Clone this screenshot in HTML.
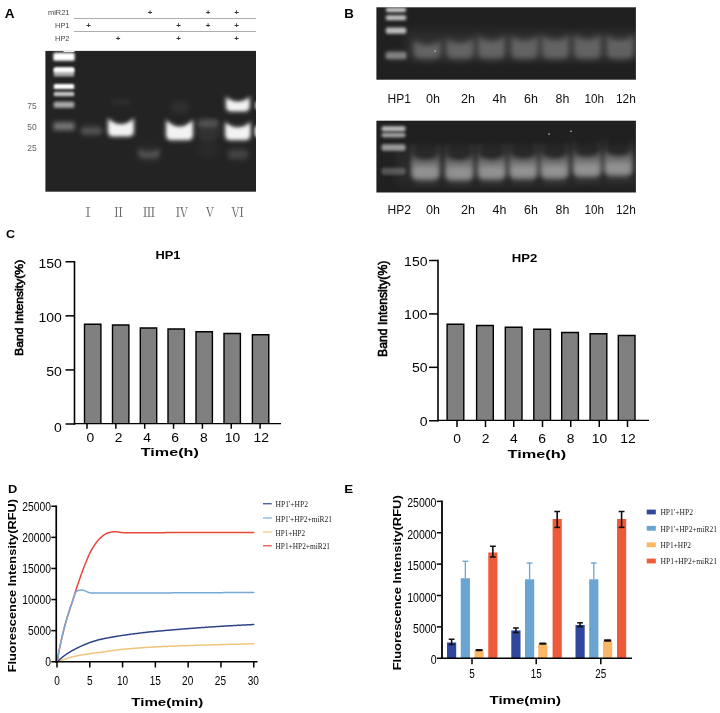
<!DOCTYPE html>
<html lang="en"><head><meta charset="utf-8"><title>Figure</title>
<style>html,body{margin:0;padding:0;background:#fff}svg{display:block}</style></head><body>
<svg width="720" height="713" viewBox="0 0 720 713">
<defs>
<filter id="b05" x="-60%" y="-250%" width="220%" height="600%"><feGaussianBlur stdDeviation="0.5"/></filter>
<filter id="b1" x="-60%" y="-250%" width="220%" height="600%"><feGaussianBlur stdDeviation="1.0"/></filter>
<filter id="b15" x="-60%" y="-250%" width="220%" height="600%"><feGaussianBlur stdDeviation="1.5"/></filter>
<filter id="b2" x="-60%" y="-250%" width="220%" height="600%"><feGaussianBlur stdDeviation="2.0"/></filter>
<filter id="b3" x="-60%" y="-250%" width="220%" height="600%"><feGaussianBlur stdDeviation="3.0"/></filter>
<filter id="b4" x="-60%" y="-250%" width="220%" height="600%"><feGaussianBlur stdDeviation="4.0"/></filter>
<filter id="tb" x="-10%" y="-10%" width="120%" height="120%"><feGaussianBlur stdDeviation="0.35"/></filter>
<clipPath id="cA"><rect x="45.4" y="50.9" width="210.6" height="140.8"/></clipPath>
<clipPath id="cB1"><rect x="376.4" y="7.3" width="259.5" height="72.4"/></clipPath>
<clipPath id="cB2"><rect x="376.4" y="120.7" width="259.5" height="71.8"/></clipPath>
<linearGradient id="gB" x1="0" y1="0" x2="0" y2="1"><stop offset="0" stop-color="#161616"/><stop offset="0.5" stop-color="#242424"/><stop offset="1" stop-color="#1b1b1b"/></linearGradient>
<linearGradient id="gv" x1="0" y1="0" x2="0" y2="1"><stop offset="0" stop-color="#fff" stop-opacity="0.35"/><stop offset="0.6" stop-color="#fff" stop-opacity="1"/><stop offset="1" stop-color="#fff" stop-opacity="1"/></linearGradient>
</defs>
<rect width="720" height="713" fill="#fff"/>
<g id="panelA">
<text x="4.8" y="18" font-family='"Liberation Sans", sans-serif' font-size="12.5" font-weight="bold" fill="#000" text-anchor="start" textLength="9.8" lengthAdjust="spacingAndGlyphs" >A</text>
<text x="69.5" y="15.3" font-family='"Liberation Sans", sans-serif' font-size="7.6" font-weight="normal" fill="#444" text-anchor="end" textLength="21.5" lengthAdjust="spacingAndGlyphs" >miR21</text>
<text x="69.5" y="28.3" font-family='"Liberation Sans", sans-serif' font-size="7.6" font-weight="normal" fill="#444" text-anchor="end" textLength="14.5" lengthAdjust="spacingAndGlyphs" >HP1</text>
<text x="69.5" y="41.3" font-family='"Liberation Sans", sans-serif' font-size="7.6" font-weight="normal" fill="#444" text-anchor="end" textLength="14.5" lengthAdjust="spacingAndGlyphs" >HP2</text>
<line x1="74" y1="18.5" x2="256" y2="18.5" stroke="#888" stroke-width="0.7" />
<line x1="74" y1="31.5" x2="256" y2="31.5" stroke="#888" stroke-width="0.7" />
<text x="150" y="15.25" font-family='"Liberation Sans", sans-serif' font-size="8" font-weight="bold" fill="#333" text-anchor="middle" >+</text>
<text x="208" y="15.25" font-family='"Liberation Sans", sans-serif' font-size="8" font-weight="bold" fill="#333" text-anchor="middle" >+</text>
<text x="236.5" y="15.25" font-family='"Liberation Sans", sans-serif' font-size="8" font-weight="bold" fill="#333" text-anchor="middle" >+</text>
<text x="88.5" y="27.95" font-family='"Liberation Sans", sans-serif' font-size="8" font-weight="bold" fill="#333" text-anchor="middle" >+</text>
<text x="178.7" y="27.95" font-family='"Liberation Sans", sans-serif' font-size="8" font-weight="bold" fill="#333" text-anchor="middle" >+</text>
<text x="208" y="27.95" font-family='"Liberation Sans", sans-serif' font-size="8" font-weight="bold" fill="#333" text-anchor="middle" >+</text>
<text x="236.5" y="27.95" font-family='"Liberation Sans", sans-serif' font-size="8" font-weight="bold" fill="#333" text-anchor="middle" >+</text>
<text x="118" y="40.65" font-family='"Liberation Sans", sans-serif' font-size="8" font-weight="bold" fill="#333" text-anchor="middle" >+</text>
<text x="178.7" y="40.65" font-family='"Liberation Sans", sans-serif' font-size="8" font-weight="bold" fill="#333" text-anchor="middle" >+</text>
<text x="236.5" y="40.65" font-family='"Liberation Sans", sans-serif' font-size="8" font-weight="bold" fill="#333" text-anchor="middle" >+</text>
<rect x="45.4" y="50.9" width="210.6" height="140.8" fill="#232323" />
<g clip-path="url(#cA)">
<rect x="53.75" y="53.30" width="20.5" height="7.0" rx="1.5" fill="#fff" opacity="1.0" filter="url(#b1)"/>
<rect x="53.00" y="52.30" width="22" height="9.0" rx="1.5" fill="#fff" opacity="0.4" filter="url(#b15)"/>
<rect x="63.50" y="50.50" width="11" height="1.6" rx="0.5" fill="#fff" opacity="0.9" filter="url(#b05)"/>
<rect x="53.75" y="67.30" width="20.5" height="5.0" rx="1.5" fill="#fff" opacity="1.0" filter="url(#b1)"/>
<rect x="53.75" y="68.50" width="20.5" height="8.0" rx="1.5" fill="#fff" opacity="0.6" filter="url(#b1)"/>
<rect x="53.75" y="83.90" width="20.5" height="5.2" rx="1.5" fill="#fff" opacity="1.0" filter="url(#b1)"/>
<rect x="53.75" y="91.80" width="20.5" height="4.4" rx="1.5" fill="#fff" opacity="0.72" filter="url(#b1)"/>
<rect x="53.75" y="101.70" width="20.5" height="6.0" rx="1.5" fill="#fff" opacity="0.62" filter="url(#b15)"/>
<rect x="53.75" y="122.45" width="20.5" height="7.5" rx="1.5" fill="#fff" opacity="0.3" filter="url(#b2)"/>
<rect x="52.50" y="120.70" width="23" height="11" rx="1.5" fill="#fff" opacity="0.08" filter="url(#b2)"/>
<rect x="81.00" y="127.50" width="21" height="7" rx="3" fill="#fff" opacity="0.17" filter="url(#b2)"/>
<rect x="80.00" y="124.00" width="23" height="12" rx="6.0" fill="#fff" opacity="0.06" filter="url(#b3)"/>
<path d="M107.85,117.50 C114.38,126.57 127.43,126.57 133.95,117.50 L133.95,131.60 Q133.95,136.60 128.95,136.60 L112.85,136.60 Q107.85,136.60 107.85,131.60 Z" fill="#ececec" opacity="0.95" filter="url(#b2)"/>
<path d="M109.65,120.50 C115.28,127.30 126.53,127.30 132.15,120.50 L132.15,130.70 Q132.15,134.70 128.15,134.70 L113.65,134.70 Q109.65,134.70 109.65,130.70 Z" fill="#fff" opacity="0.6" filter="url(#b15)"/>
<rect x="111.50" y="99.50" width="19" height="5" rx="2.5" fill="#fff" opacity="0.06" filter="url(#b2)"/>
<path d="M138.50,147.50 C143.75,153.50 154.25,153.50 159.50,147.50 L159.50,154.00 Q159.50,158.00 155.50,158.00 L142.50,158.00 Q138.50,158.00 138.50,154.00 Z" fill="#fff" opacity="0.17" filter="url(#b2)"/>
<rect x="137.00" y="146.00" width="24" height="16" rx="8.0" fill="#fff" opacity="0.05" filter="url(#b3)"/>
<path d="M165.95,119.00 C172.72,129.27 186.28,129.27 193.05,119.00 L193.05,135.20 Q193.05,140.20 188.05,140.20 L170.95,140.20 Q165.95,140.20 165.95,135.20 Z" fill="#ececec" opacity="0.95" filter="url(#b2)"/>
<path d="M167.75,122.00 C173.62,130.00 185.38,130.00 191.25,122.00 L191.25,134.30 Q191.25,138.30 187.25,138.30 L171.75,138.30 Q167.75,138.30 167.75,134.30 Z" fill="#fff" opacity="0.6" filter="url(#b15)"/>
<rect x="170.50" y="101.00" width="19" height="12" rx="6.0" fill="#fff" opacity="0.06" filter="url(#b3)"/>
<rect x="197.45" y="119.00" width="21.5" height="8" rx="3" fill="#fff" opacity="0.16" filter="url(#b2)"/>
<rect x="196.70" y="120.00" width="23" height="22" rx="11.0" fill="#fff" opacity="0.07" filter="url(#b3)"/>
<rect x="197.20" y="143.00" width="22" height="14" rx="7.0" fill="#fff" opacity="0.03" filter="url(#b3)"/>
<path d="M225.80,96.00 C231.80,103.60 243.80,103.60 249.80,96.00 L249.80,106.40 Q249.80,111.40 244.80,111.40 L230.80,111.40 Q225.80,111.40 225.80,106.40 Z" fill="#ececec" opacity="0.95" filter="url(#b2)"/>
<path d="M227.55,99.50 C232.68,104.17 242.93,104.17 248.05,99.50 L248.05,105.80 Q248.05,109.80 244.05,109.80 L231.55,109.80 Q227.55,109.80 227.55,105.80 Z" fill="#fff" opacity="0.6" filter="url(#b15)"/>
<path d="M225.00,121.30 C231.40,129.57 244.20,129.57 250.60,121.30 L250.60,135.20 Q250.60,140.20 245.60,140.20 L230.00,140.20 Q225.00,140.20 225.00,135.20 Z" fill="#ececec" opacity="0.95" filter="url(#b2)"/>
<path d="M226.80,124.30 C232.30,130.30 243.30,130.30 248.80,124.30 L248.80,134.30 Q248.80,138.30 244.80,138.30 L230.80,138.30 Q226.80,138.30 226.80,134.30 Z" fill="#fff" opacity="0.6" filter="url(#b15)"/>
<rect x="228.00" y="150.00" width="20" height="9" rx="4" fill="#fff" opacity="0.1" filter="url(#b2)"/>
<rect x="226.00" y="146.50" width="24" height="15" rx="7.5" fill="#fff" opacity="0.04" filter="url(#b3)"/>
<rect x="255.30" y="101.00" width="8" height="9" rx="4.0" fill="#fff" opacity="0.9" filter="url(#b15)"/>
<rect x="254.80" y="125.00" width="9" height="13" rx="4.5" fill="#fff" opacity="0.95" filter="url(#b15)"/>
</g>
<text x="27.2" y="108.5" font-family='"Liberation Sans", sans-serif' font-size="8.8" font-weight="normal" fill="#666" text-anchor="start" textLength="9.4" lengthAdjust="spacingAndGlyphs" >75</text>
<text x="27.2" y="130.0" font-family='"Liberation Sans", sans-serif' font-size="8.8" font-weight="normal" fill="#666" text-anchor="start" textLength="9.4" lengthAdjust="spacingAndGlyphs" >50</text>
<text x="27.2" y="150.6" font-family='"Liberation Sans", sans-serif' font-size="8.8" font-weight="normal" fill="#666" text-anchor="start" textLength="9.4" lengthAdjust="spacingAndGlyphs" >25</text>
<text x="88" y="216.5" font-family='"Liberation Serif", "Noto Serif CJK SC", serif' font-size="12.5" font-weight="normal" fill="#666" text-anchor="middle" >Ⅰ</text>
<text x="118.5" y="216.5" font-family='"Liberation Serif", "Noto Serif CJK SC", serif' font-size="12.5" font-weight="normal" fill="#666" text-anchor="middle" >Ⅱ</text>
<text x="149" y="216.5" font-family='"Liberation Serif", "Noto Serif CJK SC", serif' font-size="12.5" font-weight="normal" fill="#666" text-anchor="middle" >Ⅲ</text>
<text x="182" y="216.5" font-family='"Liberation Serif", "Noto Serif CJK SC", serif' font-size="12.5" font-weight="normal" fill="#666" text-anchor="middle" >Ⅳ</text>
<text x="210" y="216.5" font-family='"Liberation Serif", "Noto Serif CJK SC", serif' font-size="12.5" font-weight="normal" fill="#666" text-anchor="middle" >Ⅴ</text>
<text x="237.5" y="216.5" font-family='"Liberation Serif", "Noto Serif CJK SC", serif' font-size="12.5" font-weight="normal" fill="#666" text-anchor="middle" >Ⅵ</text>
</g>
<g id="panelB">
<text x="344.3" y="18.3" font-family='"Liberation Sans", sans-serif' font-size="12" font-weight="bold" fill="#000" text-anchor="start" textLength="9.6" lengthAdjust="spacingAndGlyphs" >B</text>
<rect x="376.4" y="7.3" width="259.5" height="72.4" fill="#202020" />
<g clip-path="url(#cB1)">
<rect x="405.00" y="30.00" width="240" height="32" rx="8" fill="#fff" opacity="0.05" filter="url(#b4)"/>
<rect x="385.75" y="7.70" width="20.5" height="4.4" rx="2" fill="#fff" opacity="0.8" filter="url(#b15)"/>
<rect x="385.75" y="15.30" width="20.5" height="5.0" rx="2" fill="#fff" opacity="0.72" filter="url(#b15)"/>
<rect x="385.75" y="27.40" width="20.5" height="6.4" rx="2" fill="#fff" opacity="0.7" filter="url(#b15)"/>
<rect x="385.75" y="51.90" width="20.5" height="7.0" rx="2" fill="#fff" opacity="0.36" filter="url(#b15)"/>
<rect x="384.00" y="49.90" width="24" height="11" rx="5.5" fill="#fff" opacity="0.1" filter="url(#b2)"/>
<path d="M412.95,38.50 C420.07,45.83 434.32,45.83 441.45,38.50 L441.45,52.20 Q441.45,59.20 434.45,59.20 L419.95,59.20 Q412.95,59.20 412.95,52.20 Z" fill="#fff" opacity="0.19" filter="url(#b3)"/>
<path d="M414.20,41.50 C420.70,47.50 433.70,47.50 440.20,41.50 L440.20,52.00 Q440.20,58.00 434.20,58.00 L420.20,58.00 Q414.20,58.00 414.20,52.00 Z" fill="#fff" opacity="0.09" filter="url(#b2)"/>
<path d="M445.75,36.50 C452.88,43.83 467.12,43.83 474.25,36.50 L474.25,52.20 Q474.25,59.20 467.25,59.20 L452.75,59.20 Q445.75,59.20 445.75,52.20 Z" fill="#fff" opacity="0.19" filter="url(#b3)"/>
<path d="M447.00,39.50 C453.50,45.50 466.50,45.50 473.00,39.50 L473.00,52.00 Q473.00,58.00 467.00,58.00 L453.00,58.00 Q447.00,58.00 447.00,52.00 Z" fill="#fff" opacity="0.09" filter="url(#b2)"/>
<path d="M477.25,34.50 C484.38,41.83 498.62,41.83 505.75,34.50 L505.75,52.20 Q505.75,59.20 498.75,59.20 L484.25,59.20 Q477.25,59.20 477.25,52.20 Z" fill="#fff" opacity="0.19" filter="url(#b3)"/>
<path d="M478.50,37.50 C485.00,43.50 498.00,43.50 504.50,37.50 L504.50,52.00 Q504.50,58.00 498.50,58.00 L484.50,58.00 Q478.50,58.00 478.50,52.00 Z" fill="#fff" opacity="0.09" filter="url(#b2)"/>
<path d="M510.25,34.00 C517.38,41.33 531.62,41.33 538.75,34.00 L538.75,52.20 Q538.75,59.20 531.75,59.20 L517.25,59.20 Q510.25,59.20 510.25,52.20 Z" fill="#fff" opacity="0.19" filter="url(#b3)"/>
<path d="M511.50,37.00 C518.00,43.00 531.00,43.00 537.50,37.00 L537.50,52.00 Q537.50,58.00 531.50,58.00 L517.50,58.00 Q511.50,58.00 511.50,52.00 Z" fill="#fff" opacity="0.09" filter="url(#b2)"/>
<path d="M541.25,33.50 C548.38,40.83 562.62,40.83 569.75,33.50 L569.75,52.20 Q569.75,59.20 562.75,59.20 L548.25,59.20 Q541.25,59.20 541.25,52.20 Z" fill="#fff" opacity="0.19" filter="url(#b3)"/>
<path d="M542.50,36.50 C549.00,42.50 562.00,42.50 568.50,36.50 L568.50,52.00 Q568.50,58.00 562.50,58.00 L548.50,58.00 Q542.50,58.00 542.50,52.00 Z" fill="#fff" opacity="0.09" filter="url(#b2)"/>
<path d="M573.25,33.00 C580.38,40.33 594.62,40.33 601.75,33.00 L601.75,52.20 Q601.75,59.20 594.75,59.20 L580.25,59.20 Q573.25,59.20 573.25,52.20 Z" fill="#fff" opacity="0.19" filter="url(#b3)"/>
<path d="M574.50,36.00 C581.00,42.00 594.00,42.00 600.50,36.00 L600.50,52.00 Q600.50,58.00 594.50,58.00 L580.50,58.00 Q574.50,58.00 574.50,52.00 Z" fill="#fff" opacity="0.09" filter="url(#b2)"/>
<path d="M605.75,33.50 C612.88,40.83 627.12,40.83 634.25,33.50 L634.25,52.20 Q634.25,59.20 627.25,59.20 L612.75,59.20 Q605.75,59.20 605.75,52.20 Z" fill="#fff" opacity="0.19" filter="url(#b3)"/>
<path d="M607.00,36.50 C613.50,42.50 626.50,42.50 633.00,36.50 L633.00,52.00 Q633.00,58.00 627.00,58.00 L613.00,58.00 Q607.00,58.00 607.00,52.00 Z" fill="#fff" opacity="0.09" filter="url(#b2)"/>
</g>
<circle cx="435.1" cy="51.0" r="0.9" fill="#bbb" opacity="0.8"/>
<rect x="376.4" y="120.7" width="259.5" height="71.8" fill="#202020" />
<g clip-path="url(#cB2)">
<rect x="395.00" y="146.00" width="250" height="40" rx="8" fill="#fff" opacity="0.045" filter="url(#b4)"/>
<rect x="381.50" y="126.20" width="24" height="5.0" rx="2" fill="#fff" opacity="0.72" filter="url(#b15)"/>
<rect x="381.50" y="133.10" width="24" height="4.2" rx="2" fill="#fff" opacity="0.62" filter="url(#b15)"/>
<rect x="381.50" y="144.30" width="24" height="6.4" rx="2" fill="#fff" opacity="0.55" filter="url(#b15)"/>
<rect x="381.50" y="167.80" width="24" height="7.0" rx="2" fill="#fff" opacity="0.24" filter="url(#b15)"/>
<path d="M411.10,153.30 C418.30,161.97 432.70,161.97 439.90,153.30 L439.90,173.30 Q439.90,180.30 432.90,180.30 L418.10,180.30 Q411.10,180.30 411.10,173.30 Z" fill="url(#gv)" opacity="0.36" filter="url(#b2)"/>
<path d="M411.75,159.80 C418.62,163.13 432.38,163.13 439.25,159.80 L439.25,172.50 Q439.25,179.50 432.25,179.50 L418.75,179.50 Q411.75,179.50 411.75,172.50 Z" fill="#fff" opacity="0.12" filter="url(#b3)"/>
<rect x="414.00" y="167.30" width="23" height="9" rx="4.5" fill="#fff" opacity="0.09" filter="url(#b2)"/>
<rect x="411.00" y="143.30" width="4" height="14" rx="2.0" fill="#fff" opacity="0.05" filter="url(#b2)"/>
<rect x="436.00" y="143.30" width="4" height="14" rx="2.0" fill="#fff" opacity="0.05" filter="url(#b2)"/>
<rect x="413.00" y="181.30" width="25" height="5" rx="2.5" fill="#fff" opacity="0.05" filter="url(#b2)"/>
<path d="M444.80,153.80 C452.00,162.47 466.40,162.47 473.60,153.80 L473.60,173.80 Q473.60,180.80 466.60,180.80 L451.80,180.80 Q444.80,180.80 444.80,173.80 Z" fill="url(#gv)" opacity="0.36" filter="url(#b2)"/>
<path d="M445.45,160.30 C452.32,163.63 466.07,163.63 472.95,160.30 L472.95,173.00 Q472.95,180.00 465.95,180.00 L452.45,180.00 Q445.45,180.00 445.45,173.00 Z" fill="#fff" opacity="0.12" filter="url(#b3)"/>
<rect x="447.70" y="167.80" width="23" height="9" rx="4.5" fill="#fff" opacity="0.09" filter="url(#b2)"/>
<rect x="444.70" y="143.80" width="4" height="14" rx="2.0" fill="#fff" opacity="0.05" filter="url(#b2)"/>
<rect x="469.70" y="143.80" width="4" height="14" rx="2.0" fill="#fff" opacity="0.05" filter="url(#b2)"/>
<rect x="446.70" y="181.80" width="25" height="5" rx="2.5" fill="#fff" opacity="0.05" filter="url(#b2)"/>
<path d="M477.30,153.00 C484.50,161.67 498.90,161.67 506.10,153.00 L506.10,173.00 Q506.10,180.00 499.10,180.00 L484.30,180.00 Q477.30,180.00 477.30,173.00 Z" fill="url(#gv)" opacity="0.36" filter="url(#b2)"/>
<path d="M477.95,159.50 C484.82,162.83 498.57,162.83 505.45,159.50 L505.45,172.20 Q505.45,179.20 498.45,179.20 L484.95,179.20 Q477.95,179.20 477.95,172.20 Z" fill="#fff" opacity="0.12" filter="url(#b3)"/>
<rect x="480.20" y="167.00" width="23" height="9" rx="4.5" fill="#fff" opacity="0.09" filter="url(#b2)"/>
<rect x="477.20" y="143.00" width="4" height="14" rx="2.0" fill="#fff" opacity="0.05" filter="url(#b2)"/>
<rect x="502.20" y="143.00" width="4" height="14" rx="2.0" fill="#fff" opacity="0.05" filter="url(#b2)"/>
<rect x="479.20" y="181.00" width="25" height="5" rx="2.5" fill="#fff" opacity="0.05" filter="url(#b2)"/>
<path d="M508.90,152.30 C516.10,160.97 530.50,160.97 537.70,152.30 L537.70,172.30 Q537.70,179.30 530.70,179.30 L515.90,179.30 Q508.90,179.30 508.90,172.30 Z" fill="url(#gv)" opacity="0.36" filter="url(#b2)"/>
<path d="M509.55,158.80 C516.42,162.13 530.17,162.13 537.05,158.80 L537.05,171.50 Q537.05,178.50 530.05,178.50 L516.55,178.50 Q509.55,178.50 509.55,171.50 Z" fill="#fff" opacity="0.12" filter="url(#b3)"/>
<rect x="511.80" y="166.30" width="23" height="9" rx="4.5" fill="#fff" opacity="0.09" filter="url(#b2)"/>
<rect x="508.80" y="142.30" width="4" height="14" rx="2.0" fill="#fff" opacity="0.05" filter="url(#b2)"/>
<rect x="533.80" y="142.30" width="4" height="14" rx="2.0" fill="#fff" opacity="0.05" filter="url(#b2)"/>
<rect x="510.80" y="180.30" width="25" height="5" rx="2.5" fill="#fff" opacity="0.05" filter="url(#b2)"/>
<path d="M540.10,152.00 C547.30,160.67 561.70,160.67 568.90,152.00 L568.90,172.00 Q568.90,179.00 561.90,179.00 L547.10,179.00 Q540.10,179.00 540.10,172.00 Z" fill="url(#gv)" opacity="0.36" filter="url(#b2)"/>
<path d="M540.75,158.50 C547.62,161.83 561.38,161.83 568.25,158.50 L568.25,171.20 Q568.25,178.20 561.25,178.20 L547.75,178.20 Q540.75,178.20 540.75,171.20 Z" fill="#fff" opacity="0.12" filter="url(#b3)"/>
<rect x="543.00" y="166.00" width="23" height="9" rx="4.5" fill="#fff" opacity="0.09" filter="url(#b2)"/>
<rect x="540.00" y="142.00" width="4" height="14" rx="2.0" fill="#fff" opacity="0.05" filter="url(#b2)"/>
<rect x="565.00" y="142.00" width="4" height="14" rx="2.0" fill="#fff" opacity="0.05" filter="url(#b2)"/>
<rect x="542.00" y="180.00" width="25" height="5" rx="2.5" fill="#fff" opacity="0.05" filter="url(#b2)"/>
<path d="M572.60,150.20 C579.80,158.87 594.20,158.87 601.40,150.20 L601.40,170.20 Q601.40,177.20 594.40,177.20 L579.60,177.20 Q572.60,177.20 572.60,170.20 Z" fill="url(#gv)" opacity="0.36" filter="url(#b2)"/>
<path d="M573.25,156.70 C580.12,160.03 593.88,160.03 600.75,156.70 L600.75,169.40 Q600.75,176.40 593.75,176.40 L580.25,176.40 Q573.25,176.40 573.25,169.40 Z" fill="#fff" opacity="0.12" filter="url(#b3)"/>
<rect x="575.50" y="164.20" width="23" height="9" rx="4.5" fill="#fff" opacity="0.09" filter="url(#b2)"/>
<rect x="572.50" y="140.20" width="4" height="14" rx="2.0" fill="#fff" opacity="0.05" filter="url(#b2)"/>
<rect x="597.50" y="140.20" width="4" height="14" rx="2.0" fill="#fff" opacity="0.05" filter="url(#b2)"/>
<rect x="574.50" y="178.20" width="25" height="5" rx="2.5" fill="#fff" opacity="0.05" filter="url(#b2)"/>
<path d="M603.90,149.20 C611.10,157.87 625.50,157.87 632.70,149.20 L632.70,169.20 Q632.70,176.20 625.70,176.20 L610.90,176.20 Q603.90,176.20 603.90,169.20 Z" fill="url(#gv)" opacity="0.36" filter="url(#b2)"/>
<path d="M604.55,155.70 C611.42,159.03 625.17,159.03 632.05,155.70 L632.05,168.40 Q632.05,175.40 625.05,175.40 L611.55,175.40 Q604.55,175.40 604.55,168.40 Z" fill="#fff" opacity="0.12" filter="url(#b3)"/>
<rect x="606.80" y="163.20" width="23" height="9" rx="4.5" fill="#fff" opacity="0.09" filter="url(#b2)"/>
<rect x="603.80" y="139.20" width="4" height="14" rx="2.0" fill="#fff" opacity="0.05" filter="url(#b2)"/>
<rect x="628.80" y="139.20" width="4" height="14" rx="2.0" fill="#fff" opacity="0.05" filter="url(#b2)"/>
<rect x="605.80" y="177.20" width="25" height="5" rx="2.5" fill="#fff" opacity="0.05" filter="url(#b2)"/>
</g>
<circle cx="549" cy="134" r="0.8" fill="#ccc"/><circle cx="571" cy="131.3" r="0.8" fill="#ccc"/>
<text x="387.5" y="103" font-family='"Liberation Sans", sans-serif' font-size="12.3" font-weight="normal" fill="#111" text-anchor="start" textLength="23.5" lengthAdjust="spacingAndGlyphs" >HP1</text>
<text x="426" y="103" font-family='"Liberation Sans", sans-serif' font-size="12.3" font-weight="normal" fill="#111" text-anchor="start" textLength="14" lengthAdjust="spacingAndGlyphs" >0h</text>
<text x="461" y="103" font-family='"Liberation Sans", sans-serif' font-size="12.3" font-weight="normal" fill="#111" text-anchor="start" textLength="14" lengthAdjust="spacingAndGlyphs" >2h</text>
<text x="492.5" y="103" font-family='"Liberation Sans", sans-serif' font-size="12.3" font-weight="normal" fill="#111" text-anchor="start" textLength="13.8" lengthAdjust="spacingAndGlyphs" >4h</text>
<text x="524" y="103" font-family='"Liberation Sans", sans-serif' font-size="12.3" font-weight="normal" fill="#111" text-anchor="start" textLength="13.8" lengthAdjust="spacingAndGlyphs" >6h</text>
<text x="555.5" y="103" font-family='"Liberation Sans", sans-serif' font-size="12.3" font-weight="normal" fill="#111" text-anchor="start" textLength="13.8" lengthAdjust="spacingAndGlyphs" >8h</text>
<text x="584.5" y="103" font-family='"Liberation Sans", sans-serif' font-size="12.3" font-weight="normal" fill="#111" text-anchor="start" textLength="19.5" lengthAdjust="spacingAndGlyphs" >10h</text>
<text x="616" y="103" font-family='"Liberation Sans", sans-serif' font-size="12.3" font-weight="normal" fill="#111" text-anchor="start" textLength="19.8" lengthAdjust="spacingAndGlyphs" >12h</text>
<text x="387.5" y="214" font-family='"Liberation Sans", sans-serif' font-size="12.3" font-weight="normal" fill="#111" text-anchor="start" textLength="23.5" lengthAdjust="spacingAndGlyphs" >HP2</text>
<text x="426" y="214" font-family='"Liberation Sans", sans-serif' font-size="12.3" font-weight="normal" fill="#111" text-anchor="start" textLength="14" lengthAdjust="spacingAndGlyphs" >0h</text>
<text x="461" y="214" font-family='"Liberation Sans", sans-serif' font-size="12.3" font-weight="normal" fill="#111" text-anchor="start" textLength="14" lengthAdjust="spacingAndGlyphs" >2h</text>
<text x="492.5" y="214" font-family='"Liberation Sans", sans-serif' font-size="12.3" font-weight="normal" fill="#111" text-anchor="start" textLength="13.8" lengthAdjust="spacingAndGlyphs" >4h</text>
<text x="524" y="214" font-family='"Liberation Sans", sans-serif' font-size="12.3" font-weight="normal" fill="#111" text-anchor="start" textLength="13.8" lengthAdjust="spacingAndGlyphs" >6h</text>
<text x="555.5" y="214" font-family='"Liberation Sans", sans-serif' font-size="12.3" font-weight="normal" fill="#111" text-anchor="start" textLength="13.8" lengthAdjust="spacingAndGlyphs" >8h</text>
<text x="584.5" y="214" font-family='"Liberation Sans", sans-serif' font-size="12.3" font-weight="normal" fill="#111" text-anchor="start" textLength="19.5" lengthAdjust="spacingAndGlyphs" >10h</text>
<text x="616" y="214" font-family='"Liberation Sans", sans-serif' font-size="12.3" font-weight="normal" fill="#111" text-anchor="start" textLength="19.8" lengthAdjust="spacingAndGlyphs" >12h</text>
</g>
<g id="panelC">
<text x="6" y="238" font-family='"Liberation Sans", sans-serif' font-size="11" font-weight="bold" fill="#000" text-anchor="start" textLength="9" lengthAdjust="spacingAndGlyphs" >C</text>
<rect x="84.5" y="324.2" width="16.4" height="99.80000000000001" fill="#808080" />
<path d="M84.50,424.00 L84.50,324.20 L100.90,324.20 L100.90,424.00" fill="none" stroke="#000" stroke-width="1.4"/>
<rect x="112.5" y="325.0" width="16.4" height="99.0" fill="#808080" />
<path d="M112.50,424.00 L112.50,325.00 L128.90,325.00 L128.90,424.00" fill="none" stroke="#000" stroke-width="1.4"/>
<rect x="140.3" y="328.0" width="16.4" height="96.0" fill="#808080" />
<path d="M140.30,424.00 L140.30,328.00 L156.70,328.00 L156.70,424.00" fill="none" stroke="#000" stroke-width="1.4"/>
<rect x="168.0" y="329.0" width="16.4" height="95.0" fill="#808080" />
<path d="M168.00,424.00 L168.00,329.00 L184.40,329.00 L184.40,424.00" fill="none" stroke="#000" stroke-width="1.4"/>
<rect x="196.0" y="331.8" width="16.4" height="92.19999999999999" fill="#808080" />
<path d="M196.00,424.00 L196.00,331.80 L212.40,331.80 L212.40,424.00" fill="none" stroke="#000" stroke-width="1.4"/>
<rect x="224.0" y="333.5" width="16.4" height="90.5" fill="#808080" />
<path d="M224.00,424.00 L224.00,333.50 L240.40,333.50 L240.40,424.00" fill="none" stroke="#000" stroke-width="1.4"/>
<rect x="252.4" y="334.8" width="16.4" height="89.19999999999999" fill="#808080" />
<path d="M252.40,424.00 L252.40,334.80 L268.80,334.80 L268.80,424.00" fill="none" stroke="#000" stroke-width="1.4"/>
<line x1="74.5" y1="261.05" x2="74.5" y2="424.8" stroke="#000" stroke-width="1.6" />
<line x1="73.7" y1="423.7" x2="281" y2="423.7" stroke="#000" stroke-width="1.3" />
<line x1="65.5" y1="424.0" x2="74.5" y2="424.0" stroke="#000" stroke-width="1.5" />
<text x="61.8" y="432.2" font-family='"Liberation Sans", sans-serif' font-size="12" font-weight="normal" fill="#000" text-anchor="end" textLength="7.8" lengthAdjust="spacingAndGlyphs" >0</text>
<line x1="65.5" y1="369.9166666666667" x2="74.5" y2="369.9166666666667" stroke="#000" stroke-width="1.5" />
<text x="61.8" y="375.7166666666667" font-family='"Liberation Sans", sans-serif' font-size="12" font-weight="normal" fill="#000" text-anchor="end" textLength="15.6" lengthAdjust="spacingAndGlyphs" >50</text>
<line x1="65.5" y1="315.8333333333333" x2="74.5" y2="315.8333333333333" stroke="#000" stroke-width="1.5" />
<text x="61.8" y="321.6333333333333" font-family='"Liberation Sans", sans-serif' font-size="12" font-weight="normal" fill="#000" text-anchor="end" textLength="23.4" lengthAdjust="spacingAndGlyphs" >100</text>
<line x1="65.5" y1="261.75" x2="74.5" y2="261.75" stroke="#000" stroke-width="1.5" />
<text x="61.8" y="267.55" font-family='"Liberation Sans", sans-serif' font-size="12" font-weight="normal" fill="#000" text-anchor="end" textLength="23.4" lengthAdjust="spacingAndGlyphs" >150</text>
<line x1="87.0" y1="424" x2="87.0" y2="428.8" stroke="#000" stroke-width="1.5" />
<line x1="115.85" y1="424" x2="115.85" y2="428.8" stroke="#000" stroke-width="1.5" />
<line x1="144.7" y1="424" x2="144.7" y2="428.8" stroke="#000" stroke-width="1.5" />
<line x1="173.55" y1="424" x2="173.55" y2="428.8" stroke="#000" stroke-width="1.5" />
<line x1="202.4" y1="424" x2="202.4" y2="428.8" stroke="#000" stroke-width="1.5" />
<line x1="231.25" y1="424" x2="231.25" y2="428.8" stroke="#000" stroke-width="1.5" />
<line x1="260.1" y1="424" x2="260.1" y2="428.8" stroke="#000" stroke-width="1.5" />
<text x="90.3" y="441.8" font-family='"Liberation Sans", sans-serif' font-size="12.2" font-weight="normal" fill="#000" text-anchor="middle" textLength="7.7" lengthAdjust="spacingAndGlyphs" >0</text>
<text x="118.7" y="441.8" font-family='"Liberation Sans", sans-serif' font-size="12.2" font-weight="normal" fill="#000" text-anchor="middle" textLength="7.7" lengthAdjust="spacingAndGlyphs" >2</text>
<text x="147" y="441.8" font-family='"Liberation Sans", sans-serif' font-size="12.2" font-weight="normal" fill="#000" text-anchor="middle" textLength="7.7" lengthAdjust="spacingAndGlyphs" >4</text>
<text x="175" y="441.8" font-family='"Liberation Sans", sans-serif' font-size="12.2" font-weight="normal" fill="#000" text-anchor="middle" textLength="7.7" lengthAdjust="spacingAndGlyphs" >6</text>
<text x="203.75" y="441.8" font-family='"Liberation Sans", sans-serif' font-size="12.2" font-weight="normal" fill="#000" text-anchor="middle" textLength="7.7" lengthAdjust="spacingAndGlyphs" >8</text>
<text x="232.5" y="441.8" font-family='"Liberation Sans", sans-serif' font-size="12.2" font-weight="normal" fill="#000" text-anchor="middle" textLength="15.4" lengthAdjust="spacingAndGlyphs" >10</text>
<text x="261.25" y="441.8" font-family='"Liberation Sans", sans-serif' font-size="12.2" font-weight="normal" fill="#000" text-anchor="middle" textLength="15.4" lengthAdjust="spacingAndGlyphs" >12</text>
<text x="155.5" y="259" font-family='"Liberation Sans", sans-serif' font-size="11" font-weight="bold" fill="#000" text-anchor="start" textLength="25" lengthAdjust="spacingAndGlyphs" >HP1</text>
<text x="140.8" y="456" font-family='"Liberation Sans", sans-serif' font-size="11.5" font-weight="bold" fill="#000" text-anchor="start" textLength="58" lengthAdjust="spacingAndGlyphs" >Time(h)</text>
<text transform="translate(23.1 356.0) rotate(-90)" font-family='"Liberation Sans", sans-serif' font-size="11.2" fill="#000" stroke="#000" stroke-width="0.6" textLength="96.3" lengthAdjust="spacingAndGlyphs">Band Intensity(%)</text>
<rect x="447.1" y="324.2" width="16.7" height="96.55000000000001" fill="#808080" />
<path d="M447.10,420.75 L447.10,324.20 L463.80,324.20 L463.80,420.75" fill="none" stroke="#000" stroke-width="1.4"/>
<rect x="476.6" y="325.5" width="16.7" height="95.25" fill="#808080" />
<path d="M476.60,420.75 L476.60,325.50 L493.30,325.50 L493.30,420.75" fill="none" stroke="#000" stroke-width="1.4"/>
<rect x="505.3" y="327.2" width="16.7" height="93.55000000000001" fill="#808080" />
<path d="M505.30,420.75 L505.30,327.20 L522.00,327.20 L522.00,420.75" fill="none" stroke="#000" stroke-width="1.4"/>
<rect x="533.8" y="329.2" width="16.7" height="91.55000000000001" fill="#808080" />
<path d="M533.80,420.75 L533.80,329.20 L550.50,329.20 L550.50,420.75" fill="none" stroke="#000" stroke-width="1.4"/>
<rect x="561.7" y="332.5" width="16.7" height="88.25" fill="#808080" />
<path d="M561.70,420.75 L561.70,332.50 L578.40,332.50 L578.40,420.75" fill="none" stroke="#000" stroke-width="1.4"/>
<rect x="590.1" y="333.8" width="16.7" height="86.94999999999999" fill="#808080" />
<path d="M590.10,420.75 L590.10,333.80 L606.80,333.80 L606.80,420.75" fill="none" stroke="#000" stroke-width="1.4"/>
<rect x="618.3" y="335.5" width="16.7" height="85.25" fill="#808080" />
<path d="M618.30,420.75 L618.30,335.50 L635.00,335.50 L635.00,420.75" fill="none" stroke="#000" stroke-width="1.4"/>
<line x1="438" y1="259.8" x2="438" y2="421.55" stroke="#000" stroke-width="1.6" />
<line x1="437.2" y1="420.45" x2="649" y2="420.45" stroke="#000" stroke-width="1.3" />
<line x1="429" y1="420.75" x2="438" y2="420.75" stroke="#000" stroke-width="1.5" />
<text x="427.5" y="426.15" font-family='"Liberation Sans", sans-serif' font-size="12" font-weight="normal" fill="#000" text-anchor="end" textLength="7.8" lengthAdjust="spacingAndGlyphs" >0</text>
<line x1="429" y1="367.3333333333333" x2="438" y2="367.3333333333333" stroke="#000" stroke-width="1.5" />
<text x="427.5" y="372.3333333333333" font-family='"Liberation Sans", sans-serif' font-size="12" font-weight="normal" fill="#000" text-anchor="end" textLength="15.6" lengthAdjust="spacingAndGlyphs" >50</text>
<line x1="429" y1="313.91666666666663" x2="438" y2="313.91666666666663" stroke="#000" stroke-width="1.5" />
<text x="427.5" y="318.91666666666663" font-family='"Liberation Sans", sans-serif' font-size="12" font-weight="normal" fill="#000" text-anchor="end" textLength="23.4" lengthAdjust="spacingAndGlyphs" >100</text>
<line x1="429" y1="260.5" x2="438" y2="260.5" stroke="#000" stroke-width="1.5" />
<text x="427.5" y="265.5" font-family='"Liberation Sans", sans-serif' font-size="12" font-weight="normal" fill="#000" text-anchor="end" textLength="23.4" lengthAdjust="spacingAndGlyphs" >150</text>
<line x1="457" y1="420.75" x2="457" y2="427.05" stroke="#000" stroke-width="1.5" />
<line x1="485.5" y1="420.75" x2="485.5" y2="427.05" stroke="#000" stroke-width="1.5" />
<line x1="513.75" y1="420.75" x2="513.75" y2="427.05" stroke="#000" stroke-width="1.5" />
<line x1="542.5" y1="420.75" x2="542.5" y2="427.05" stroke="#000" stroke-width="1.5" />
<line x1="570.75" y1="420.75" x2="570.75" y2="427.05" stroke="#000" stroke-width="1.5" />
<line x1="599.25" y1="420.75" x2="599.25" y2="427.05" stroke="#000" stroke-width="1.5" />
<line x1="627.5" y1="420.75" x2="627.5" y2="427.05" stroke="#000" stroke-width="1.5" />
<text x="457" y="443" font-family='"Liberation Sans", sans-serif' font-size="12.2" font-weight="normal" fill="#000" text-anchor="middle" textLength="7.7" lengthAdjust="spacingAndGlyphs" >0</text>
<text x="485.5" y="443" font-family='"Liberation Sans", sans-serif' font-size="12.2" font-weight="normal" fill="#000" text-anchor="middle" textLength="7.7" lengthAdjust="spacingAndGlyphs" >2</text>
<text x="513.75" y="443" font-family='"Liberation Sans", sans-serif' font-size="12.2" font-weight="normal" fill="#000" text-anchor="middle" textLength="7.7" lengthAdjust="spacingAndGlyphs" >4</text>
<text x="542" y="443" font-family='"Liberation Sans", sans-serif' font-size="12.2" font-weight="normal" fill="#000" text-anchor="middle" textLength="7.7" lengthAdjust="spacingAndGlyphs" >6</text>
<text x="570.5" y="443" font-family='"Liberation Sans", sans-serif' font-size="12.2" font-weight="normal" fill="#000" text-anchor="middle" textLength="7.7" lengthAdjust="spacingAndGlyphs" >8</text>
<text x="599.5" y="443" font-family='"Liberation Sans", sans-serif' font-size="12.2" font-weight="normal" fill="#000" text-anchor="middle" textLength="15.4" lengthAdjust="spacingAndGlyphs" >10</text>
<text x="628" y="443" font-family='"Liberation Sans", sans-serif' font-size="12.2" font-weight="normal" fill="#000" text-anchor="middle" textLength="15.4" lengthAdjust="spacingAndGlyphs" >12</text>
<text x="511.75" y="262" font-family='"Liberation Sans", sans-serif' font-size="11" font-weight="bold" fill="#000" text-anchor="start" textLength="25.5" lengthAdjust="spacingAndGlyphs" >HP2</text>
<text x="507.5" y="457.5" font-family='"Liberation Sans", sans-serif' font-size="11.5" font-weight="bold" fill="#000" text-anchor="start" textLength="58.7" lengthAdjust="spacingAndGlyphs" >Time(h)</text>
<text transform="translate(387.0 357.0) rotate(-90)" font-family='"Liberation Sans", sans-serif' font-size="12" fill="#000" stroke="#000" stroke-width="0.6" textLength="96.3" lengthAdjust="spacingAndGlyphs">Band Intensity(%)</text>
</g>
<g id="panelD">
<text x="7.9" y="492.8" font-family='"Liberation Sans", sans-serif' font-size="10.5" font-weight="bold" fill="#000" text-anchor="start" textLength="9.3" lengthAdjust="spacingAndGlyphs" >D</text>
<path d="M57.00,661.75 L57.82,661.46 L58.64,661.17 L59.46,660.87 L60.28,660.57 L61.10,660.27 L61.92,659.98 L62.74,659.70 L63.56,659.42 L64.38,659.16 L65.20,658.92 L66.02,658.67 L66.84,658.44 L67.66,658.20 L68.48,657.97 L69.30,657.74 L70.12,657.52 L70.94,657.30 L71.76,657.08 L72.58,656.88 L73.39,656.67 L74.21,656.48 L75.03,656.29 L75.85,656.11 L76.67,655.93 L77.49,655.76 L78.31,655.60 L79.13,655.44 L79.95,655.28 L80.77,655.13 L81.59,654.99 L82.41,654.85 L83.23,654.71 L84.05,654.57 L84.87,654.44 L85.69,654.31 L86.51,654.18 L87.33,654.05 L88.15,653.92 L88.97,653.79 L89.79,653.66 L90.61,653.54 L91.43,653.42 L92.25,653.30 L93.07,653.19 L93.89,653.08 L94.71,652.98 L95.53,652.87 L96.35,652.77 L97.17,652.67 L97.99,652.56 L98.81,652.46 L99.63,652.35 L100.45,652.24 L101.27,652.13 L102.09,652.01 L102.91,651.90 L103.73,651.79 L104.55,651.67 L105.37,651.56 L106.19,651.45 L107.00,651.33 L107.82,651.22 L108.64,651.11 L109.46,651.00 L110.28,650.88 L111.10,650.77 L111.92,650.66 L112.74,650.55 L113.56,650.44 L114.38,650.33 L115.20,650.22 L116.02,650.11 L116.84,650.00 L117.66,649.90 L118.48,649.79 L119.30,649.69 L120.12,649.59 L120.94,649.49 L121.76,649.40 L122.58,649.31 L123.40,649.23 L124.22,649.15 L125.04,649.07 L125.86,649.00 L126.68,648.93 L127.50,648.86 L128.32,648.79 L129.14,648.73 L129.96,648.66 L130.78,648.60 L131.60,648.54 L132.42,648.48 L133.24,648.41 L134.06,648.35 L134.88,648.29 L135.70,648.22 L136.52,648.16 L137.34,648.09 L138.16,648.03 L138.97,647.96 L139.79,647.90 L140.61,647.84 L141.43,647.77 L142.25,647.71 L143.07,647.65 L143.89,647.59 L144.71,647.53 L145.53,647.47 L146.35,647.42 L147.17,647.36 L147.99,647.31 L148.81,647.27 L149.63,647.22 L150.45,647.18 L151.27,647.14 L152.09,647.10 L152.91,647.05 L153.73,647.01 L154.55,646.97 L155.37,646.93 L156.19,646.89 L157.01,646.86 L157.83,646.82 L158.65,646.78 L159.47,646.74 L160.29,646.70 L161.11,646.67 L161.93,646.63 L162.75,646.59 L163.57,646.56 L164.39,646.52 L165.21,646.48 L166.03,646.45 L166.85,646.41 L167.67,646.38 L168.49,646.34 L169.31,646.31 L170.13,646.28 L170.95,646.24 L171.76,646.21 L172.58,646.18 L173.40,646.14 L174.22,646.11 L175.04,646.08 L175.86,646.05 L176.68,646.01 L177.50,645.98 L178.32,645.95 L179.14,645.92 L179.96,645.89 L180.78,645.85 L181.60,645.82 L182.42,645.79 L183.24,645.76 L184.06,645.73 L184.88,645.70 L185.70,645.67 L186.52,645.64 L187.34,645.61 L188.16,645.58 L188.98,645.55 L189.80,645.52 L190.62,645.49 L191.44,645.46 L192.26,645.43 L193.08,645.40 L193.90,645.38 L194.72,645.35 L195.54,645.32 L196.36,645.30 L197.18,645.27 L198.00,645.24 L198.82,645.22 L199.64,645.19 L200.46,645.17 L201.28,645.14 L202.10,645.12 L202.92,645.09 L203.74,645.07 L204.56,645.04 L205.37,645.02 L206.19,645.00 L207.01,644.97 L207.83,644.95 L208.65,644.93 L209.47,644.90 L210.29,644.88 L211.11,644.86 L211.93,644.83 L212.75,644.81 L213.57,644.79 L214.39,644.76 L215.21,644.74 L216.03,644.72 L216.85,644.70 L217.67,644.67 L218.49,644.65 L219.31,644.63 L220.13,644.61 L220.95,644.58 L221.77,644.56 L222.59,644.54 L223.41,644.52 L224.23,644.49 L225.05,644.47 L225.87,644.45 L226.69,644.43 L227.51,644.41 L228.33,644.38 L229.15,644.36 L229.97,644.34 L230.79,644.32 L231.61,644.30 L232.43,644.28 L233.25,644.26 L234.07,644.24 L234.89,644.22 L235.71,644.20 L236.53,644.18 L237.34,644.16 L238.16,644.14 L238.98,644.12 L239.80,644.10 L240.62,644.07 L241.44,644.05 L242.26,644.03 L243.08,644.01 L243.90,643.99 L244.72,643.97 L245.54,643.95 L246.36,643.93 L247.18,643.91 L248.00,643.89 L248.82,643.87 L249.64,643.85 L250.46,643.83 L251.28,643.81 L252.10,643.79 L252.92,643.77 L253.74,643.75" fill="none" stroke="#efc57c" stroke-width="1.5" stroke-linejoin="round" stroke-linecap="round"/>
<path d="M57.00,661.75 L57.82,661.07 L58.64,660.37 L59.46,659.66 L60.28,658.95 L61.10,658.25 L61.92,657.55 L62.74,656.88 L63.56,656.24 L64.38,655.63 L65.20,655.06 L66.02,654.50 L66.84,653.96 L67.66,653.42 L68.48,652.90 L69.30,652.39 L70.12,651.89 L70.94,651.40 L71.76,650.92 L72.58,650.46 L73.39,650.00 L74.21,649.55 L75.03,649.11 L75.85,648.69 L76.67,648.27 L77.49,647.86 L78.31,647.46 L79.13,647.07 L79.95,646.69 L80.77,646.31 L81.59,645.94 L82.41,645.58 L83.23,645.23 L84.05,644.88 L84.87,644.53 L85.69,644.20 L86.51,643.87 L87.33,643.54 L88.15,643.22 L88.97,642.90 L89.79,642.59 L90.61,642.29 L91.43,642.00 L92.25,641.72 L93.07,641.45 L93.89,641.18 L94.71,640.93 L95.53,640.69 L96.35,640.46 L97.17,640.23 L97.99,640.01 L98.81,639.80 L99.63,639.60 L100.45,639.40 L101.27,639.21 L102.09,639.02 L102.91,638.84 L103.73,638.67 L104.55,638.51 L105.37,638.35 L106.19,638.19 L107.00,638.03 L107.82,637.88 L108.64,637.73 L109.46,637.59 L110.28,637.44 L111.10,637.29 L111.92,637.14 L112.74,636.99 L113.56,636.85 L114.38,636.70 L115.20,636.56 L116.02,636.42 L116.84,636.28 L117.66,636.14 L118.48,636.01 L119.30,635.88 L120.12,635.75 L120.94,635.63 L121.76,635.50 L122.58,635.38 L123.40,635.26 L124.22,635.14 L125.04,635.02 L125.86,634.90 L126.68,634.79 L127.50,634.68 L128.32,634.56 L129.14,634.45 L129.96,634.34 L130.78,634.24 L131.60,634.13 L132.42,634.03 L133.24,633.92 L134.06,633.82 L134.88,633.71 L135.70,633.61 L136.52,633.51 L137.34,633.40 L138.16,633.30 L138.97,633.19 L139.79,633.09 L140.61,632.99 L141.43,632.88 L142.25,632.78 L143.07,632.68 L143.89,632.58 L144.71,632.49 L145.53,632.39 L146.35,632.30 L147.17,632.21 L147.99,632.12 L148.81,632.04 L149.63,631.95 L150.45,631.87 L151.27,631.80 L152.09,631.72 L152.91,631.64 L153.73,631.56 L154.55,631.48 L155.37,631.41 L156.19,631.33 L157.01,631.25 L157.83,631.18 L158.65,631.10 L159.47,631.03 L160.29,630.95 L161.11,630.88 L161.93,630.81 L162.75,630.73 L163.57,630.66 L164.39,630.59 L165.21,630.51 L166.03,630.44 L166.85,630.37 L167.67,630.30 L168.49,630.23 L169.31,630.15 L170.13,630.08 L170.95,630.01 L171.76,629.94 L172.58,629.87 L173.40,629.80 L174.22,629.73 L175.04,629.67 L175.86,629.60 L176.68,629.53 L177.50,629.46 L178.32,629.39 L179.14,629.33 L179.96,629.26 L180.78,629.19 L181.60,629.12 L182.42,629.06 L183.24,628.99 L184.06,628.92 L184.88,628.86 L185.70,628.79 L186.52,628.73 L187.34,628.66 L188.16,628.60 L188.98,628.53 L189.80,628.47 L190.62,628.40 L191.44,628.34 L192.26,628.28 L193.08,628.22 L193.90,628.15 L194.72,628.09 L195.54,628.03 L196.36,627.97 L197.18,627.91 L198.00,627.85 L198.82,627.79 L199.64,627.73 L200.46,627.67 L201.28,627.61 L202.10,627.55 L202.92,627.49 L203.74,627.44 L204.56,627.38 L205.37,627.32 L206.19,627.26 L207.01,627.21 L207.83,627.15 L208.65,627.10 L209.47,627.04 L210.29,626.99 L211.11,626.93 L211.93,626.88 L212.75,626.82 L213.57,626.77 L214.39,626.71 L215.21,626.66 L216.03,626.61 L216.85,626.56 L217.67,626.50 L218.49,626.45 L219.31,626.40 L220.13,626.35 L220.95,626.30 L221.77,626.25 L222.59,626.19 L223.41,626.15 L224.23,626.10 L225.05,626.05 L225.87,626.00 L226.69,625.95 L227.51,625.90 L228.33,625.86 L229.15,625.81 L229.97,625.77 L230.79,625.72 L231.61,625.67 L232.43,625.63 L233.25,625.59 L234.07,625.54 L234.89,625.50 L235.71,625.45 L236.53,625.41 L237.34,625.37 L238.16,625.32 L238.98,625.28 L239.80,625.24 L240.62,625.19 L241.44,625.15 L242.26,625.11 L243.08,625.06 L243.90,625.02 L244.72,624.98 L245.54,624.94 L246.36,624.89 L247.18,624.85 L248.00,624.81 L248.82,624.76 L249.64,624.72 L250.46,624.68 L251.28,624.63 L252.10,624.59 L252.92,624.54 L253.74,624.50" fill="none" stroke="#2f4486" stroke-width="1.5" stroke-linejoin="round" stroke-linecap="round"/>
<path d="M57.00,661.75 L57.82,657.49 L58.64,653.20 L59.46,648.98 L60.28,644.96 L61.10,641.15 L61.92,637.49 L62.74,633.99 L63.56,630.65 L64.38,627.49 L65.20,624.51 L66.02,621.64 L66.84,618.83 L67.66,616.08 L68.48,613.41 L69.30,610.81 L70.12,608.26 L70.94,605.81 L71.76,603.45 L72.58,601.05 L73.39,598.51 L74.21,595.78 L75.03,593.00 L75.85,590.30 L76.67,587.76 L77.49,585.30 L78.31,582.89 L79.13,580.52 L79.95,578.18 L80.77,575.84 L81.59,573.52 L82.41,571.25 L83.23,569.04 L84.05,566.91 L84.87,564.82 L85.69,562.75 L86.51,560.71 L87.33,558.73 L88.15,556.83 L88.97,555.01 L89.79,553.30 L90.61,551.68 L91.43,550.15 L92.25,548.71 L93.07,547.34 L93.89,546.03 L94.71,544.80 L95.53,543.62 L96.35,542.51 L97.17,541.47 L97.99,540.50 L98.81,539.58 L99.63,538.71 L100.45,537.88 L101.27,537.11 L102.09,536.38 L102.91,535.72 L103.73,535.11 L104.55,534.55 L105.37,534.06 L106.19,533.62 L107.00,533.24 L107.82,532.93 L108.64,532.68 L109.46,532.46 L110.28,532.28 L111.10,532.12 L111.92,531.97 L112.74,531.84 L113.56,531.75 L114.38,531.71 L115.20,531.71 L116.02,531.73 L116.84,531.78 L117.66,531.88 L118.48,532.02 L119.30,532.18 L120.12,532.33 L120.94,532.44 L121.76,532.51 L122.58,532.58 L123.40,532.63 L124.22,532.67 L125.04,532.70 L125.86,532.72 L126.68,532.73 L127.50,532.74 L128.32,532.74 L129.14,532.75 L129.96,532.75 L130.78,532.74 L131.60,532.74 L132.42,532.73 L133.24,532.73 L134.06,532.72 L134.88,532.72 L135.70,532.72 L136.52,532.71 L137.34,532.71 L138.16,532.71 L138.97,532.71 L139.79,532.71 L140.61,532.70 L141.43,532.70 L142.25,532.70 L143.07,532.70 L143.89,532.69 L144.71,532.69 L145.53,532.69 L146.35,532.69 L147.17,532.68 L147.99,532.68 L148.81,532.68 L149.63,532.68 L150.45,532.67 L151.27,532.67 L152.09,532.67 L152.91,532.66 L153.73,532.66 L154.55,532.66 L155.37,532.66 L156.19,532.65 L157.01,532.65 L157.83,532.65 L158.65,532.65 L159.47,532.64 L160.29,532.64 L161.11,532.64 L161.93,532.63 L162.75,532.63 L163.57,532.63 L164.39,532.63 L165.21,532.62 L166.03,532.62 L166.85,532.62 L167.67,532.62 L168.49,532.61 L169.31,532.61 L170.13,532.61 L170.95,532.60 L171.76,532.60 L172.58,532.60 L173.40,532.60 L174.22,532.59 L175.04,532.59 L175.86,532.59 L176.68,532.59 L177.50,532.59 L178.32,532.58 L179.14,532.58 L179.96,532.58 L180.78,532.58 L181.60,532.57 L182.42,532.57 L183.24,532.57 L184.06,532.57 L184.88,532.57 L185.70,532.57 L186.52,532.56 L187.34,532.56 L188.16,532.56 L188.98,532.56 L189.80,532.56 L190.62,532.56 L191.44,532.55 L192.26,532.55 L193.08,532.55 L193.90,532.55 L194.72,532.55 L195.54,532.55 L196.36,532.55 L197.18,532.55 L198.00,532.54 L198.82,532.54 L199.64,532.54 L200.46,532.54 L201.28,532.54 L202.10,532.54 L202.92,532.54 L203.74,532.54 L204.56,532.54 L205.37,532.54 L206.19,532.54 L207.01,532.53 L207.83,532.53 L208.65,532.53 L209.47,532.53 L210.29,532.53 L211.11,532.53 L211.93,532.53 L212.75,532.53 L213.57,532.53 L214.39,532.53 L215.21,532.53 L216.03,532.53 L216.85,532.53 L217.67,532.52 L218.49,532.52 L219.31,532.52 L220.13,532.52 L220.95,532.52 L221.77,532.52 L222.59,532.52 L223.41,532.52 L224.23,532.52 L225.05,532.52 L225.87,532.52 L226.69,532.52 L227.51,532.52 L228.33,532.52 L229.15,532.52 L229.97,532.52 L230.79,532.52 L231.61,532.51 L232.43,532.51 L233.25,532.51 L234.07,532.51 L234.89,532.51 L235.71,532.51 L236.53,532.51 L237.34,532.51 L238.16,532.51 L238.98,532.51 L239.80,532.51 L240.62,532.51 L241.44,532.51 L242.26,532.51 L243.08,532.51 L243.90,532.51 L244.72,532.51 L245.54,532.51 L246.36,532.50 L247.18,532.50 L248.00,532.50 L248.82,532.50 L249.64,532.50 L250.46,532.50 L251.28,532.50 L252.10,532.50 L252.92,532.50 L253.74,532.50" fill="none" stroke="#e8473a" stroke-width="1.5" stroke-linejoin="round" stroke-linecap="round"/>
<path d="M57.00,661.75 L57.82,657.49 L58.64,653.20 L59.46,648.98 L60.28,644.96 L61.10,641.15 L61.92,637.49 L62.74,633.99 L63.56,630.65 L64.38,627.49 L65.20,624.51 L66.02,621.64 L66.84,618.83 L67.66,616.08 L68.48,613.41 L69.30,610.81 L70.12,608.26 L70.94,605.78 L71.76,603.39 L72.58,601.00 L73.39,598.54 L74.21,595.94 L75.03,593.78 L75.85,592.10 L76.67,591.20 L77.49,590.74 L78.31,590.50 L79.13,590.34 L79.95,590.17 L80.77,590.02 L81.59,589.94 L82.41,589.96 L83.23,590.10 L84.05,590.38 L84.87,590.75 L85.69,591.13 L86.51,591.48 L87.33,591.85 L88.15,592.23 L88.97,592.55 L89.79,592.76 L90.61,592.87 L91.43,592.92 L92.25,592.92 L93.07,592.93 L93.89,592.94 L94.71,592.94 L95.53,592.95 L96.35,592.95 L97.17,592.95 L97.99,592.95 L98.81,592.94 L99.63,592.94 L100.45,592.93 L101.27,592.93 L102.09,592.93 L102.91,592.93 L103.73,592.92 L104.55,592.92 L105.37,592.92 L106.19,592.92 L107.00,592.92 L107.82,592.92 L108.64,592.92 L109.46,592.91 L110.28,592.91 L111.10,592.91 L111.92,592.91 L112.74,592.91 L113.56,592.90 L114.38,592.90 L115.20,592.90 L116.02,592.90 L116.84,592.90 L117.66,592.90 L118.48,592.90 L119.30,592.90 L120.12,592.89 L120.94,592.89 L121.76,592.89 L122.58,592.89 L123.40,592.90 L124.22,592.90 L125.04,592.90 L125.86,592.90 L126.68,592.90 L127.50,592.90 L128.32,592.90 L129.14,592.91 L129.96,592.91 L130.78,592.91 L131.60,592.91 L132.42,592.91 L133.24,592.92 L134.06,592.92 L134.88,592.92 L135.70,592.93 L136.52,592.93 L137.34,592.93 L138.16,592.93 L138.97,592.94 L139.79,592.94 L140.61,592.94 L141.43,592.94 L142.25,592.95 L143.07,592.95 L143.89,592.95 L144.71,592.95 L145.53,592.95 L146.35,592.96 L147.17,592.96 L147.99,592.96 L148.81,592.96 L149.63,592.96 L150.45,592.96 L151.27,592.96 L152.09,592.96 L152.91,592.96 L153.73,592.96 L154.55,592.96 L155.37,592.96 L156.19,592.96 L157.01,592.95 L157.83,592.95 L158.65,592.95 L159.47,592.94 L160.29,592.94 L161.11,592.94 L161.93,592.93 L162.75,592.93 L163.57,592.93 L164.39,592.92 L165.21,592.92 L166.03,592.91 L166.85,592.91 L167.67,592.90 L168.49,592.90 L169.31,592.89 L170.13,592.89 L170.95,592.88 L171.76,592.87 L172.58,592.87 L173.40,592.86 L174.22,592.86 L175.04,592.85 L175.86,592.85 L176.68,592.84 L177.50,592.83 L178.32,592.83 L179.14,592.82 L179.96,592.82 L180.78,592.81 L181.60,592.81 L182.42,592.80 L183.24,592.80 L184.06,592.79 L184.88,592.79 L185.70,592.78 L186.52,592.78 L187.34,592.77 L188.16,592.77 L188.98,592.77 L189.80,592.76 L190.62,592.76 L191.44,592.76 L192.26,592.75 L193.08,592.75 L193.90,592.74 L194.72,592.74 L195.54,592.74 L196.36,592.73 L197.18,592.73 L198.00,592.73 L198.82,592.72 L199.64,592.72 L200.46,592.72 L201.28,592.71 L202.10,592.71 L202.92,592.71 L203.74,592.70 L204.56,592.70 L205.37,592.69 L206.19,592.69 L207.01,592.69 L207.83,592.68 L208.65,592.68 L209.47,592.68 L210.29,592.67 L211.11,592.67 L211.93,592.67 L212.75,592.66 L213.57,592.66 L214.39,592.66 L215.21,592.65 L216.03,592.65 L216.85,592.65 L217.67,592.65 L218.49,592.64 L219.31,592.64 L220.13,592.64 L220.95,592.63 L221.77,592.63 L222.59,592.63 L223.41,592.62 L224.23,592.62 L225.05,592.62 L225.87,592.61 L226.69,592.61 L227.51,592.61 L228.33,592.60 L229.15,592.60 L229.97,592.60 L230.79,592.59 L231.61,592.59 L232.43,592.59 L233.25,592.58 L234.07,592.58 L234.89,592.58 L235.71,592.57 L236.53,592.57 L237.34,592.57 L238.16,592.56 L238.98,592.56 L239.80,592.56 L240.62,592.56 L241.44,592.55 L242.26,592.55 L243.08,592.55 L243.90,592.54 L244.72,592.54 L245.54,592.54 L246.36,592.53 L247.18,592.53 L248.00,592.53 L248.82,592.52 L249.64,592.52 L250.46,592.52 L251.28,592.51 L252.10,592.51 L252.92,592.51 L253.74,592.50" fill="none" stroke="#76a9d6" stroke-width="1.5" stroke-linejoin="round" stroke-linecap="round"/>
<line x1="56.25" y1="505.5" x2="56.25" y2="662.6" stroke="#000" stroke-width="1.7" />
<line x1="55.4" y1="661.75" x2="257.5" y2="661.75" stroke="#000" stroke-width="1.7" />
<line x1="51.3" y1="661.75" x2="56.25" y2="661.75" stroke="#000" stroke-width="1.5" />
<text x="51.0" y="666.45" font-family='"Liberation Sans", sans-serif' font-size="12.6" font-weight="normal" fill="#000" text-anchor="end" textLength="5.75" lengthAdjust="spacingAndGlyphs" >0</text>
<line x1="51.3" y1="630.65" x2="56.25" y2="630.65" stroke="#000" stroke-width="1.5" />
<text x="51.0" y="635.35" font-family='"Liberation Sans", sans-serif' font-size="12.6" font-weight="normal" fill="#000" text-anchor="end" textLength="23.0" lengthAdjust="spacingAndGlyphs" >5000</text>
<line x1="51.3" y1="599.55" x2="56.25" y2="599.55" stroke="#000" stroke-width="1.5" />
<text x="51.0" y="604.25" font-family='"Liberation Sans", sans-serif' font-size="12.6" font-weight="normal" fill="#000" text-anchor="end" textLength="28.75" lengthAdjust="spacingAndGlyphs" >10000</text>
<line x1="51.3" y1="568.45" x2="56.25" y2="568.45" stroke="#000" stroke-width="1.5" />
<text x="51.0" y="573.1500000000001" font-family='"Liberation Sans", sans-serif' font-size="12.6" font-weight="normal" fill="#000" text-anchor="end" textLength="28.75" lengthAdjust="spacingAndGlyphs" >15000</text>
<line x1="51.3" y1="537.35" x2="56.25" y2="537.35" stroke="#000" stroke-width="1.5" />
<text x="51.0" y="542.0500000000001" font-family='"Liberation Sans", sans-serif' font-size="12.6" font-weight="normal" fill="#000" text-anchor="end" textLength="28.75" lengthAdjust="spacingAndGlyphs" >20000</text>
<line x1="51.3" y1="506.25" x2="56.25" y2="506.25" stroke="#000" stroke-width="1.5" />
<text x="51.0" y="510.95" font-family='"Liberation Sans", sans-serif' font-size="12.6" font-weight="normal" fill="#000" text-anchor="end" textLength="28.75" lengthAdjust="spacingAndGlyphs" >25000</text>
<line x1="57.0" y1="661.75" x2="57.0" y2="667.5" stroke="#000" stroke-width="1.5" />
<text x="57.0" y="684.6" font-family='"Liberation Sans", sans-serif' font-size="13.3" font-weight="normal" fill="#000" text-anchor="middle" textLength="5.6" lengthAdjust="spacingAndGlyphs" >0</text>
<line x1="89.78999999999999" y1="661.75" x2="89.78999999999999" y2="667.5" stroke="#000" stroke-width="1.5" />
<text x="89.78999999999999" y="684.6" font-family='"Liberation Sans", sans-serif' font-size="13.3" font-weight="normal" fill="#000" text-anchor="middle" textLength="5.6" lengthAdjust="spacingAndGlyphs" >5</text>
<line x1="122.58" y1="661.75" x2="122.58" y2="667.5" stroke="#000" stroke-width="1.5" />
<text x="122.58" y="684.6" font-family='"Liberation Sans", sans-serif' font-size="13.3" font-weight="normal" fill="#000" text-anchor="middle" textLength="11.2" lengthAdjust="spacingAndGlyphs" >10</text>
<line x1="155.37" y1="661.75" x2="155.37" y2="667.5" stroke="#000" stroke-width="1.5" />
<text x="155.37" y="684.6" font-family='"Liberation Sans", sans-serif' font-size="13.3" font-weight="normal" fill="#000" text-anchor="middle" textLength="11.2" lengthAdjust="spacingAndGlyphs" >15</text>
<line x1="188.16" y1="661.75" x2="188.16" y2="667.5" stroke="#000" stroke-width="1.5" />
<text x="187.66" y="684.6" font-family='"Liberation Sans", sans-serif' font-size="13.3" font-weight="normal" fill="#000" text-anchor="middle" textLength="11.2" lengthAdjust="spacingAndGlyphs" >20</text>
<line x1="220.95" y1="661.75" x2="220.95" y2="667.5" stroke="#000" stroke-width="1.5" />
<text x="220.45" y="684.6" font-family='"Liberation Sans", sans-serif' font-size="13.3" font-weight="normal" fill="#000" text-anchor="middle" textLength="11.2" lengthAdjust="spacingAndGlyphs" >25</text>
<line x1="253.74" y1="661.75" x2="253.74" y2="667.5" stroke="#000" stroke-width="1.5" />
<text x="253.24" y="684.6" font-family='"Liberation Sans", sans-serif' font-size="13.3" font-weight="normal" fill="#000" text-anchor="middle" textLength="11.2" lengthAdjust="spacingAndGlyphs" >30</text>
<text x="131.25" y="706" font-family='"Liberation Sans", sans-serif' font-size="11.5" font-weight="bold" fill="#000" text-anchor="start" textLength="72" lengthAdjust="spacingAndGlyphs" >Time(min)</text>
<text transform="translate(16.2 672.3) rotate(-90)" font-family='"Liberation Sans", sans-serif' font-size="10.5" font-weight="bold" textLength="173.3" lengthAdjust="spacingAndGlyphs">Fluorescence Intensity(RFU)</text>
<line x1="263" y1="503.75" x2="271.75" y2="503.75" stroke="#2f4486" stroke-width="1.2" />
<text x="275.5" y="507.35" font-family='"Liberation Serif", serif' font-size="8.9" font-weight="normal" fill="#222" text-anchor="start" textLength="32.5" lengthAdjust="spacingAndGlyphs" >HP1'+HP2</text>
<line x1="263" y1="518" x2="271.75" y2="518" stroke="#76a9d6" stroke-width="1.2" />
<text x="275.5" y="521.6" font-family='"Liberation Serif", serif' font-size="8.9" font-weight="normal" fill="#222" text-anchor="start" textLength="56.5" lengthAdjust="spacingAndGlyphs" >HP1'+HP2+miR21</text>
<line x1="263" y1="532" x2="271.75" y2="532" stroke="#efc57c" stroke-width="1.2" />
<text x="275.5" y="535.6" font-family='"Liberation Serif", serif' font-size="8.9" font-weight="normal" fill="#222" text-anchor="start" textLength="29.5" lengthAdjust="spacingAndGlyphs" >HP1+HP2</text>
<line x1="263" y1="545.75" x2="271.75" y2="545.75" stroke="#e8473a" stroke-width="1.2" />
<text x="275.5" y="549.35" font-family='"Liberation Serif", serif' font-size="8.9" font-weight="normal" fill="#222" text-anchor="start" textLength="54.5" lengthAdjust="spacingAndGlyphs" >HP1+HP2+miR21</text>
</g>
<g id="panelE">
<text x="344.3" y="492.5" font-family='"Liberation Sans", sans-serif' font-size="10.5" font-weight="bold" fill="#000" text-anchor="start" textLength="8.9" lengthAdjust="spacingAndGlyphs" >E</text>
<rect x="447" y="642.5" width="9.2" height="15.75" fill="#2f479d" />
<line x1="451.6" y1="639.25" x2="451.6" y2="644.5" stroke="#111" stroke-width="1.6" />
<line x1="448.70000000000005" y1="639.25" x2="454.5" y2="639.25" stroke="#111" stroke-width="1.5" />
<line x1="448.70000000000005" y1="644.5" x2="454.5" y2="644.5" stroke="#111" stroke-width="1.5" />
<rect x="460.75" y="578.25" width="9.2" height="80.0" fill="#6aa5d2" />
<line x1="465.35" y1="561.25" x2="465.35" y2="578.25" stroke="#6aa5d2" stroke-width="1.3" />
<line x1="462.45000000000005" y1="561.25" x2="468.25" y2="561.25" stroke="#6aa5d2" stroke-width="1.3" />
<rect x="474.5" y="650.75" width="9.2" height="7.5" fill="#fbb765" />
<line x1="476.5" y1="650.2" x2="481.70000000000005" y2="650.2" stroke="#111" stroke-width="2.3" stroke-linecap="round"/>
<rect x="488.25" y="552.5" width="9.2" height="105.75" fill="#ee5b3b" />
<line x1="492.85" y1="546.25" x2="492.85" y2="557.0" stroke="#111" stroke-width="1.6" />
<line x1="489.95000000000005" y1="546.25" x2="495.75" y2="546.25" stroke="#111" stroke-width="1.5" />
<line x1="489.95000000000005" y1="557.0" x2="495.75" y2="557.0" stroke="#111" stroke-width="1.5" />
<rect x="511.3" y="630.4" width="9.2" height="27.850000000000023" fill="#2f479d" />
<line x1="515.9" y1="628.0" x2="515.9" y2="632.5" stroke="#111" stroke-width="1.6" />
<line x1="513.0" y1="628.0" x2="518.8" y2="628.0" stroke="#111" stroke-width="1.5" />
<line x1="513.0" y1="632.5" x2="518.8" y2="632.5" stroke="#111" stroke-width="1.5" />
<rect x="525.0" y="579.3" width="9.2" height="78.95000000000005" fill="#6aa5d2" />
<line x1="529.6" y1="563.0" x2="529.6" y2="579.3" stroke="#6aa5d2" stroke-width="1.3" />
<line x1="526.7" y1="563.0" x2="532.5" y2="563.0" stroke="#6aa5d2" stroke-width="1.3" />
<rect x="538.2" y="644.2" width="9.2" height="14.049999999999955" fill="#fbb765" />
<line x1="540.2" y1="643.7" x2="545.4000000000001" y2="643.7" stroke="#111" stroke-width="2.3" stroke-linecap="round"/>
<rect x="552.6" y="519.0" width="9.2" height="139.25" fill="#ee5b3b" />
<line x1="557.2" y1="511.5" x2="557.2" y2="527.4" stroke="#111" stroke-width="1.6" />
<line x1="554.3000000000001" y1="511.5" x2="560.1" y2="511.5" stroke="#111" stroke-width="1.5" />
<line x1="554.3000000000001" y1="527.4" x2="560.1" y2="527.4" stroke="#111" stroke-width="1.5" />
<rect x="575.5" y="625.0" width="9.2" height="33.25" fill="#2f479d" />
<line x1="580.1" y1="622.8" x2="580.1" y2="626.7" stroke="#111" stroke-width="1.6" />
<line x1="577.2" y1="622.8" x2="583.0" y2="622.8" stroke="#111" stroke-width="1.5" />
<line x1="577.2" y1="626.7" x2="583.0" y2="626.7" stroke="#111" stroke-width="1.5" />
<rect x="589.2" y="579.3" width="9.2" height="78.95000000000005" fill="#6aa5d2" />
<line x1="593.8000000000001" y1="563.0" x2="593.8000000000001" y2="579.3" stroke="#6aa5d2" stroke-width="1.3" />
<line x1="590.9000000000001" y1="563.0" x2="596.7" y2="563.0" stroke="#6aa5d2" stroke-width="1.3" />
<rect x="603.0" y="641.0" width="9.2" height="17.25" fill="#fbb765" />
<line x1="605.0" y1="640.5" x2="610.2" y2="640.5" stroke="#111" stroke-width="2.3" stroke-linecap="round"/>
<rect x="617.0" y="519.0" width="9.2" height="139.25" fill="#ee5b3b" />
<line x1="621.6" y1="511.5" x2="621.6" y2="527.4" stroke="#111" stroke-width="1.6" />
<line x1="618.7" y1="511.5" x2="624.5" y2="511.5" stroke="#111" stroke-width="1.5" />
<line x1="618.7" y1="527.4" x2="624.5" y2="527.4" stroke="#111" stroke-width="1.5" />
<line x1="442" y1="500.6" x2="442" y2="659.1" stroke="#000" stroke-width="1.8" />
<line x1="441.1" y1="658.25" x2="632" y2="658.25" stroke="#000" stroke-width="1.7" />
<line x1="436.8" y1="658.25" x2="442" y2="658.25" stroke="#000" stroke-width="1.5" />
<text x="436.5" y="664.25" font-family='"Liberation Sans", sans-serif' font-size="12.6" font-weight="normal" fill="#000" text-anchor="end" textLength="5.86" lengthAdjust="spacingAndGlyphs" >0</text>
<line x1="436.8" y1="626.875" x2="442" y2="626.875" stroke="#000" stroke-width="1.5" />
<text x="436.5" y="632.875" font-family='"Liberation Sans", sans-serif' font-size="12.6" font-weight="normal" fill="#000" text-anchor="end" textLength="23.44" lengthAdjust="spacingAndGlyphs" >5000</text>
<line x1="436.8" y1="595.5" x2="442" y2="595.5" stroke="#000" stroke-width="1.5" />
<text x="436.5" y="601.5" font-family='"Liberation Sans", sans-serif' font-size="12.6" font-weight="normal" fill="#000" text-anchor="end" textLength="29.3" lengthAdjust="spacingAndGlyphs" >10000</text>
<line x1="436.8" y1="564.125" x2="442" y2="564.125" stroke="#000" stroke-width="1.5" />
<text x="436.5" y="570.125" font-family='"Liberation Sans", sans-serif' font-size="12.6" font-weight="normal" fill="#000" text-anchor="end" textLength="29.3" lengthAdjust="spacingAndGlyphs" >15000</text>
<line x1="436.8" y1="532.75" x2="442" y2="532.75" stroke="#000" stroke-width="1.5" />
<text x="436.5" y="538.75" font-family='"Liberation Sans", sans-serif' font-size="12.6" font-weight="normal" fill="#000" text-anchor="end" textLength="29.3" lengthAdjust="spacingAndGlyphs" >20000</text>
<line x1="436.8" y1="501.375" x2="442" y2="501.375" stroke="#000" stroke-width="1.5" />
<text x="436.5" y="507.375" font-family='"Liberation Sans", sans-serif' font-size="12.6" font-weight="normal" fill="#000" text-anchor="end" textLength="29.3" lengthAdjust="spacingAndGlyphs" >25000</text>
<line x1="472" y1="658.25" x2="472" y2="664.25" stroke="#000" stroke-width="1.5" />
<text x="472" y="677.9" font-family='"Liberation Sans", sans-serif' font-size="13.2" font-weight="normal" fill="#000" text-anchor="middle" textLength="5.5" lengthAdjust="spacingAndGlyphs" >5</text>
<line x1="536.2" y1="658.25" x2="536.2" y2="664.25" stroke="#000" stroke-width="1.5" />
<text x="536.2" y="677.9" font-family='"Liberation Sans", sans-serif' font-size="13.2" font-weight="normal" fill="#000" text-anchor="middle" textLength="11.0" lengthAdjust="spacingAndGlyphs" >15</text>
<line x1="600.8" y1="658.25" x2="600.8" y2="664.25" stroke="#000" stroke-width="1.5" />
<text x="600.8" y="677.9" font-family='"Liberation Sans", sans-serif' font-size="13.2" font-weight="normal" fill="#000" text-anchor="middle" textLength="11.0" lengthAdjust="spacingAndGlyphs" >25</text>
<text x="489.5" y="704.3" font-family='"Liberation Sans", sans-serif' font-size="11.5" font-weight="bold" fill="#000" text-anchor="start" textLength="71.5" lengthAdjust="spacingAndGlyphs" >Time(min)</text>
<text transform="translate(401.2 670.3) rotate(-90)" font-family='"Liberation Sans", sans-serif' font-size="10.5" font-weight="bold" textLength="175" lengthAdjust="spacingAndGlyphs">Fluorescence Intensity(RFU)</text>
<rect x="646.7" y="509.6" width="9.1" height="4.8" fill="#2f479d" />
<text x="660.4" y="515.4" font-family='"Liberation Serif", serif' font-size="8.9" font-weight="normal" fill="#222" text-anchor="start" textLength="32.6" lengthAdjust="spacingAndGlyphs" >HP1'+HP2</text>
<rect x="646.7" y="525.9" width="9.1" height="4.8" fill="#6aa5d2" />
<text x="660.4" y="531.6999999999999" font-family='"Liberation Serif", serif' font-size="8.9" font-weight="normal" fill="#222" text-anchor="start" textLength="56.6" lengthAdjust="spacingAndGlyphs" >HP1'+HP2+miR21</text>
<rect x="646.7" y="542.4" width="9.1" height="4.8" fill="#fbb765" />
<text x="660.4" y="548.1999999999999" font-family='"Liberation Serif", serif' font-size="8.9" font-weight="normal" fill="#222" text-anchor="start" textLength="30.6" lengthAdjust="spacingAndGlyphs" >HP1+HP2</text>
<rect x="646.7" y="558.6" width="9.1" height="4.8" fill="#ee5b3b" />
<text x="660.4" y="564.4" font-family='"Liberation Serif", serif' font-size="8.9" font-weight="normal" fill="#222" text-anchor="start" textLength="56.6" lengthAdjust="spacingAndGlyphs" >HP1+HP2+miR21</text>
</g>
</svg></body></html>
